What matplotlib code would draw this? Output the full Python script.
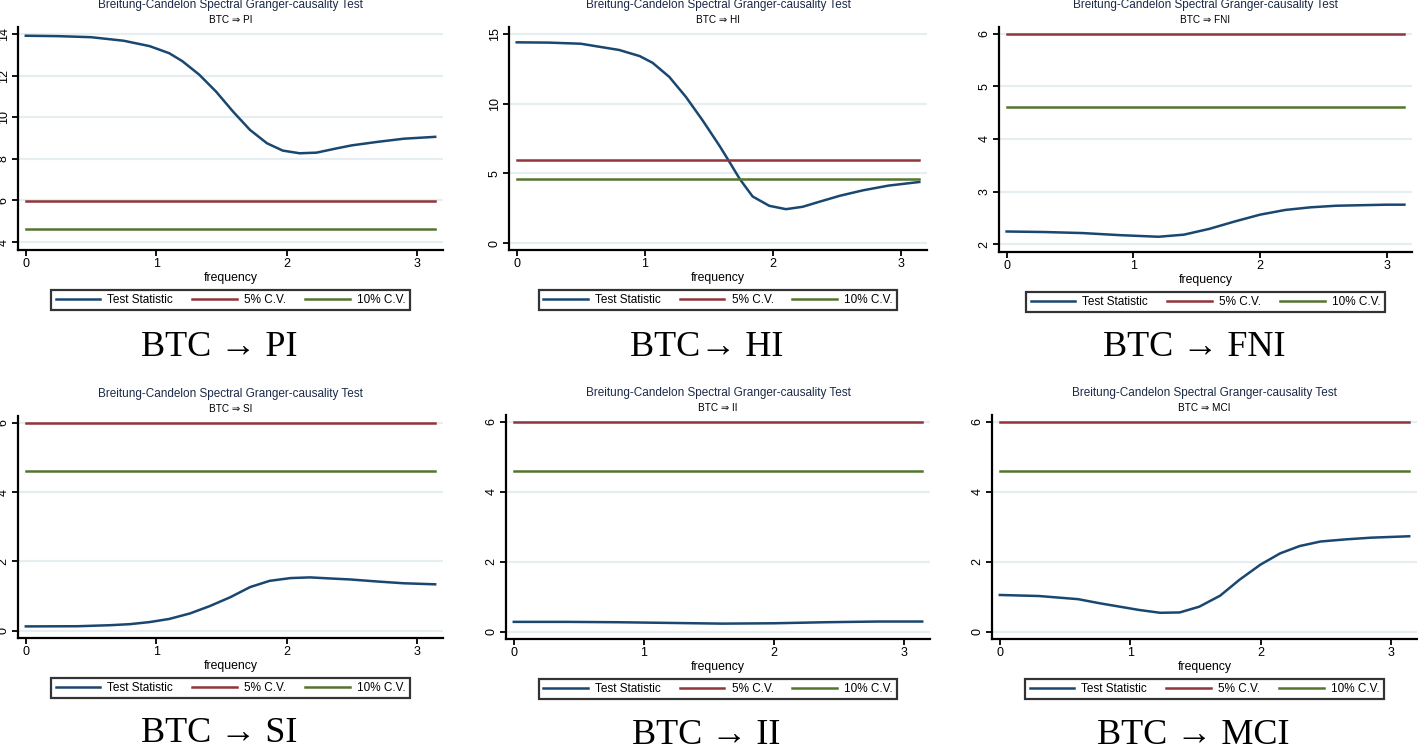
import numpy as np
import matplotlib
matplotlib.use('Agg')
import matplotlib.pyplot as plt

# critical values (chi2, 2 df)
cv5 = 5.99
cv10 = 4.61

# test statistic per panel
pi_freq = [0, 0.25, 0.5, 0.75, 0.95, 1.1, 1.2, 1.33, 1.46, 1.59, 1.72, 1.85, 1.97, 2.1, 2.23, 2.38, 2.5, 2.7, 2.9, 3.14]
pi_stat = [13.92, 13.9, 13.85, 13.68, 13.42, 13.08, 12.7, 12.05, 11.23, 10.27, 9.39, 8.75, 8.4, 8.27, 8.3, 8.5, 8.65, 8.82, 8.97, 9.06]

hi_freq = [0, 0.25, 0.5, 0.8, 0.96, 1.06, 1.19, 1.32, 1.45, 1.58, 1.65, 1.74, 1.84, 1.97, 2.1, 2.23, 2.36, 2.52, 2.7, 2.9, 3.14]
hi_stat = [14.4, 14.38, 14.3, 13.85, 13.41, 12.93, 11.92, 10.48, 8.8, 7.0, 5.96, 4.59, 3.34, 2.67, 2.43, 2.6, 2.96, 3.39, 3.78, 4.12, 4.38]

fni_freq = [0, 0.3, 0.6, 0.9, 1.0, 1.2, 1.4, 1.6, 1.8, 2.0, 2.2, 2.4, 2.6, 2.8, 3.0, 3.14]
fni_stat = [2.24, 2.23, 2.21, 2.17, 2.16, 2.14, 2.18, 2.29, 2.43, 2.56, 2.65, 2.70, 2.73, 2.74, 2.75, 2.75]

si_freq = [0, 0.4, 0.65, 0.8, 0.95, 1.1, 1.26, 1.41, 1.57, 1.72, 1.87, 2.03, 2.18, 2.33, 2.49, 2.7, 2.9, 3.14]
si_stat = [0.125, 0.13, 0.16, 0.19, 0.25, 0.34, 0.5, 0.71, 0.97, 1.26, 1.44, 1.52, 1.54, 1.51, 1.48, 1.42, 1.37, 1.34]

ii_freq = [0, 0.4, 0.8, 1.2, 1.6, 2.0, 2.4, 2.8, 3.14]
ii_stat = [0.28, 0.28, 0.27, 0.25, 0.23, 0.24, 0.27, 0.29, 0.29]

mci_freq = [0, 0.3, 0.6, 0.77, 0.92, 1.07, 1.23, 1.38, 1.53, 1.69, 1.84, 2.0, 2.15, 2.3, 2.46, 2.65, 2.85, 3.14]
mci_stat = [1.05, 1.02, 0.93, 0.81, 0.715, 0.62, 0.54, 0.55, 0.715, 1.03, 1.49, 1.92, 2.24, 2.45, 2.58, 2.64, 2.69, 2.73]

names = ['PI', 'HI', 'FNI', 'SI', 'II', 'MCI']
big_labels = ['BTC \u2192 PI', 'BTC\u2192 HI', 'BTC \u2192 FNI', 'BTC \u2192 SI', 'BTC \u2192 II', 'BTC \u2192 MCI']
freqs = [pi_freq, hi_freq, fni_freq, si_freq, ii_freq, mci_freq]
stats = [pi_stat, hi_stat, fni_stat, si_stat, ii_stat, mci_stat]
yticks = [[4, 6, 8, 10, 12, 14], [0, 5, 10, 15], [2, 3, 4, 5, 6], [0, 2, 4, 6], [0, 2, 4, 6], [0, 2, 4, 6]]
ylims = [(3.62, 14.34), (-0.5, 15.5), (1.85, 6.13), (-0.21, 6.2), (-0.21, 6.2), (-0.21, 6.2)]

# axes boxes in pixels: left, top, right, bottom
boxes = [(18, 27, 443, 250), (509, 27, 927, 250), (999, 27, 1412, 252),
         (18, 416, 443, 638), (506, 415, 930, 639), (992, 415, 1417, 639)]
label_gap = [98, 98, 96, 96, 96, 96]

W, H = 1418, 754
navy = '#1a476f'
maroon = '#90353b'
green = '#55752f'
sans = ['Liberation Sans', 'DejaVu Sans']
serif = ['Liberation Serif', 'DejaVu Serif']

plt.rcParams['font.family'] = sans
fig = plt.figure(figsize=(W / 100, H / 100), dpi=100)

for i in range(6):
    l, t, r, b = boxes[i]
    ax = fig.add_axes([l / W, 1 - b / H, (r - l) / W, (b - t) / H])
    f = np.array(freqs[i])
    ax.plot(f, stats[i], color=navy, lw=1.8, label='Test Statistic')
    ax.plot(f, np.full_like(f, cv5), color=maroon, lw=1.8, label='5% C.V.')
    ax.plot(f, np.full_like(f, cv10), color=green, lw=1.8, label='10% C.V.')
    ax.set_xlim(-0.06, 3.2)
    ax.set_ylim(*ylims[i])
    ax.set_xticks([0, 1, 2, 3])
    ax.set_yticks(yticks[i])
    ax.set_yticklabels([str(v) for v in yticks[i]], rotation=90, va='center')
    ax.tick_params(labelsize=9, length=4, width=1.3, pad=2)
    for s in ['top', 'right']:
        ax.spines[s].set_visible(False)
    for s in ['left', 'bottom']:
        ax.spines[s].set_linewidth(1.6)
    ax.grid(axis='y', color='#e7eef1', lw=1.6)
    ax.set_axisbelow(True)
    ax.set_xlabel('frequency', fontsize=8.8, labelpad=1)
    ax.set_title('BTC \u21d2 ' + names[i], fontsize=7.2, pad=3)
    cx = (l + r) / 2
    fig.text(cx / W, 1 - (t - 22) / H, 'Breitung-Candelon Spectral Granger-causality Test',
             ha='center', va='center', fontsize=8.5, color='#1c2a48')
    leg = ax.legend(loc='upper center', bbox_to_anchor=(0.5, -(40 / (b - t))), ncol=3,
                    fontsize=8.5, frameon=True, fancybox=False, edgecolor='black',
                    handlelength=3.8, handletextpad=0.6, columnspacing=1.6,
                    borderpad=0.35, borderaxespad=0)
    leg.get_frame().set_linewidth(1.6)
    fig.text(cx / W - 0.008, 1 - (b + label_gap[i]) / H, big_labels[i], ha='center', va='center',
             fontsize=26, family=serif)

fig.savefig('out.png', dpi=100)
